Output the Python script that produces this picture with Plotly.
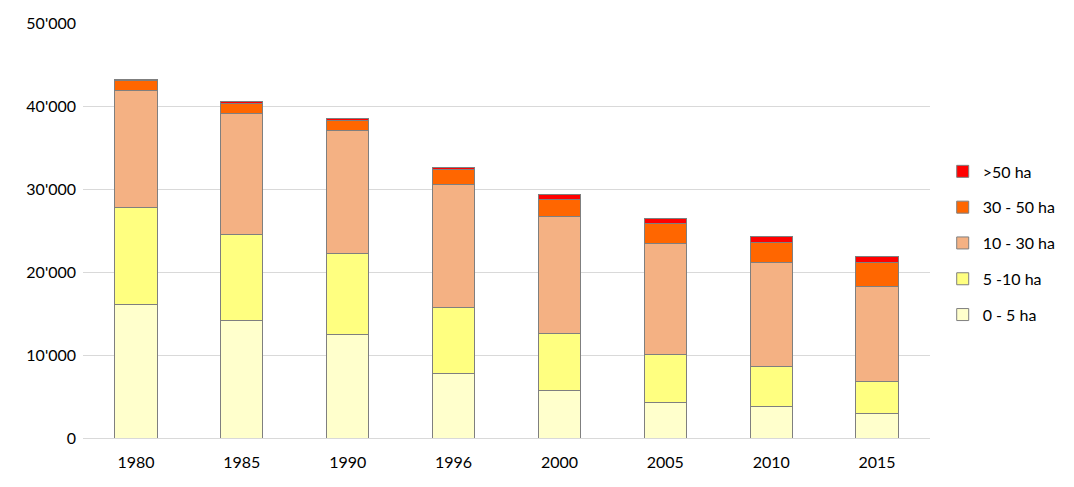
import plotly.graph_objects as go

years = ["1980", "1985", "1990", "1996", "2000", "2005", "2010", "2015"]
s_0_5 = [16100, 14150, 12450, 7760, 5750, 4300, 3800, 2970]
s_5_10 = [11700, 10350, 9750, 7940, 6850, 5800, 4850, 3880]
s_10_30 = [14100, 14600, 14900, 14900, 14100, 13300, 12550, 11350]
s_30_50 = [1200, 1200, 1200, 1800, 2100, 2500, 2400, 2900]
s_50 = [60, 200, 200, 200, 500, 600, 700, 800]

series = [
    ("0 - 5 ha", s_0_5, "#FFFFCC"),
    ("5 -10 ha", s_5_10, "#FFFF80"),
    ("10 - 30 ha", s_10_30, "#F4B183"),
    ("30 - 50 ha", s_30_50, "#FF6600"),
    (">50 ha", s_50, "#FF0000"),
]

fig = go.Figure()
n = len(series)
for i, (name, vals, col) in enumerate(series):
    fig.add_trace(go.Bar(
        x=years, y=vals, name=name, legendgroup=f"g{i}", legendrank=1000 + (n - i),
        marker=dict(color=col, line=dict(color="#7F7F7F", width=1)),
    ))

font = "Lato, 'Open Sans', sans-serif"
fig.update_layout(
    barmode="stack",
    bargap=0.6,
    width=1066, height=479,
    margin=dict(l=75, r=144, t=15, b=49),
    plot_bgcolor="white", paper_bgcolor="white",
    separators=".'",
    font=dict(family=font, size=16, color="#000000"),
    legend=dict(traceorder="grouped", tracegroupgap=12, x=1.015, xanchor="left",
                y=0.47, yanchor="middle", font=dict(size=16)),
    xaxis=dict(type="category", showgrid=False, showline=False, ticks="",
               automargin=False, ticklabelstandoff=13),
    yaxis=dict(range=[0, 50010], tickvals=[0, 10000, 20000, 30000, 40000, 50000],
               tickformat=",d", showgrid=True,
               gridcolor="#D9D9D9", gridwidth=1, zeroline=True,
               zerolinecolor="#D9D9D9", zerolinewidth=1, showline=False,
               ticks="", automargin=False, ticklabelstandoff=6),
)
fig.write_html("out.html")
